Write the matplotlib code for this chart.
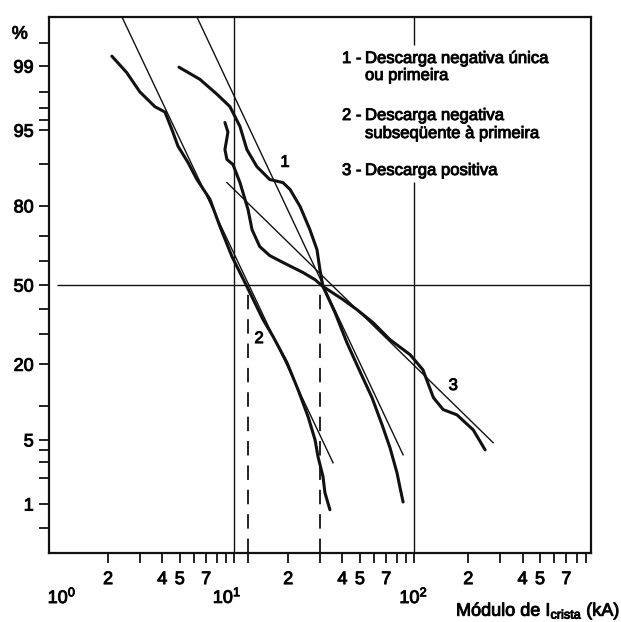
import numpy as np
import matplotlib
matplotlib.use("Agg")
import matplotlib.pyplot as plt
import matplotlib.ticker as mticker
import matplotlib.transforms as mtransforms
import matplotlib.patheffects as pe
from statistics import NormalDist

plt.rcParams['font.family'] = ['Liberation Sans', 'DejaVu Sans']
plt.rcParams['mathtext.fontset'] = 'custom'
plt.rcParams['mathtext.rm'] = 'Liberation Sans'
plt.rcParams['mathtext.it'] = 'Liberation Sans:italic'

# Curvas (kA, % de probabilidade)
curva1_ka = [4.95, 6.47, 8.05, 9.50, 10.8, 11.8, 13.4, 15.8, 18.7, 20.5, 23.3, 26.4,
             28.9, 30.0, 31.2, 36.4, 42.4, 50.1, 58.4, 66.4, 73.5, 80.4, 83.6, 86.9]
curva1_pct = [98.97, 98.56, 97.87, 97.1, 95.4, 92.5, 89.6, 86.9, 86.2, 84.5, 79.8, 72.2,
              64.7, 56.6, 49.4, 38.5, 27.0, 17.9, 11.6, 6.9, 4.2, 2.3, 1.56, 1.06]

curva2_ka = [2.10, 2.54, 3.00, 3.64, 4.14, 4.52, 4.89, 5.55, 6.23, 7.36, 8.36, 9.75,
             11.8, 14.5, 16.5, 19.7, 22.7, 25.8, 28.2, 29.3, 31.2, 32.0, 34.1]
curva2_pct = [99.25, 98.8, 98.0, 97.1, 96.7, 95.1, 93.0, 90.4, 86.9, 81.9, 73.3, 61.9,
              49.4, 35.7, 29.2, 20.5, 13.3, 8.1, 5.0, 3.4, 2.1, 1.37, 0.85]

curva3_ka = [8.91, 9.26, 8.91, 9.14, 9.87, 10.8, 11.97, 12.6, 13.9, 15.8, 18.7, 24.2,
             28.2, 31.2, 40.3, 48.2, 59.2, 73.5, 95.0, 112, 128, 145, 173, 213, 248]
curva3_pct = [95.8, 94.8, 92.5, 90.9, 90.0, 86.2, 78.9, 72.2, 65.9, 62.3, 59.5, 55.3,
              52.3, 49.4, 43.9, 39.7, 34.5, 28.1, 23.0, 18.4, 11.6, 9.3, 8.4, 6.2, 4.0]

# Retas ajustadas (dois pontos cada)
reta1_ka = [6.23, 86.9]
reta1_pct = [99.78, 3.57]
reta2_ka = [2.39, 35.5]
reta2_pct = [99.78, 2.95]
reta3_ka = [9.14, 275]
reta3_pct = [86.2, 4.7]

# Medianas (linhas tracejadas)
medianas_ka = [12, 30]

y_maior = [1, 5, 20, 50, 80, 95, 99]
y_menor = [0.5, 2, 3, 4, 10, 30, 40, 60, 70, 90, 96, 97, 98, 99.5]
x_maior = [2, 4, 5, 7, 20, 40, 50, 70, 200, 400, 500, 700]
x_rotulos = ['2', '4', '5', '7', '2', '4', '5', '7', '2', '4', '5', '7']
x_menor = [3, 6, 8, 9, 10, 12, 30, 60, 80, 90, 100, 300, 600, 800, 900]

legenda = [("1 -", ["Descarga negativa única", "ou primeira"]),
           ("2 -", ["Descarga negativa", "subseqüente à primeira"]),
           ("3 -", ["Descarga positiva"])]

# Escala de probabilidade normal
_nd = NormalDist()


def prob_fwd(p):
    p = np.clip(np.asarray(p, dtype=float), 1e-6, 100 - 1e-6)
    return np.vectorize(lambda v: _nd.inv_cdf(v / 100.0), otypes=[float])(p)


def prob_inv(z):
    z = np.asarray(z, dtype=float)
    return np.vectorize(lambda v: _nd.cdf(v) * 100.0, otypes=[float])(z)


preto = '#111111'
# texto "digitalizado" um pouco mais grosso
tinta = [pe.withStroke(linewidth=0.7, foreground=preto)]

fig = plt.figure(figsize=(6.21, 6.22), dpi=100)
ax = fig.add_axes([0.0789, 0.1109, 0.8728, 0.8617])
ax.set_xscale('log')
ax.set_yscale('function', functions=(prob_fwd, prob_inv))
ax.set_xlim(0.94, 960)
ax.set_ylim(0.221, 99.78)

ax.plot(curva1_ka, curva1_pct, color=preto, lw=2.2, solid_capstyle='round', solid_joinstyle='round')
ax.plot(curva2_ka, curva2_pct, color=preto, lw=2.2, solid_capstyle='round', solid_joinstyle='round')
ax.plot(curva3_ka, curva3_pct, color=preto, lw=2.2, solid_capstyle='round', solid_joinstyle='round')
ax.plot(reta1_ka, reta1_pct, color=preto, lw=1.0)
ax.plot(reta2_ka, reta2_pct, color=preto, lw=1.0)
ax.plot(reta3_ka, reta3_pct, color=preto, lw=1.0)

# linhas de referência
ax.axvline(10, color=preto, lw=1.0)
ax.vlines(100, 0.221, 86.4, color=preto, lw=1.0)
ax.vlines(100, 99.47, 99.78, color=preto, lw=1.0)
ax.hlines(50, 1.04, 960, color=preto, lw=1.0)
ax.vlines(medianas_ka, 0.221, 50, color=preto, lw=1.3, linestyles=(0, (8, 5.5)))

for xv, yv, num in [(19.2, 90.4, '1'), (13.8, 28.5, '2'), (165, 14.3, '3')]:
    ax.text(xv, yv, num, fontsize=12, ha='center', va='center', path_effects=tinta)

# eixos
ax.set_yticks(y_maior, [str(v) for v in y_maior])
ax.set_yticks(y_menor, minor=True)
ax.set_xticks(x_maior, x_rotulos)
ax.set_xticks(x_menor, minor=True)
ax.xaxis.set_minor_formatter(mticker.NullFormatter())
ax.yaxis.set_minor_formatter(mticker.NullFormatter())
ax.tick_params(which='both', direction='out', length=7, width=1.3, color=preto,
               labelsize=13)
ax.tick_params(axis='x', pad=6)
ax.tick_params(axis='y', pad=4)
for lbl in ax.get_xticklabels() + ax.get_yticklabels():
    lbl.set_path_effects(tinta)
for s in ax.spines.values():
    s.set_linewidth(1.6)
    s.set_color(preto)

trans = mtransforms.blended_transform_factory(ax.transData, ax.transAxes)
for xv, txt in [(1.11, r'$10^0$'), (9.16, r'$10^1$'), (99.5, r'$10^2$')]:
    ax.text(xv, -0.082, txt, transform=trans, ha='center', va='center', fontsize=13,
            path_effects=tinta)

ax.text(-0.054, 0.968, '%', transform=ax.transAxes, ha='center', va='center',
        fontsize=13, path_effects=tinta)
fig.text(0.998, 0.01, r'Módulo de I$_{\mathrm{crista}}$ (kA)', ha='right',
         va='baseline', fontsize=13, path_effects=tinta)

# legenda em texto
bases = [[63, 80], [120, 138], [175]]
for (num, linhas), ys in zip(legenda, bases):
    fig.text(342 / 621, 1 - ys[0] / 622, num, fontsize=12, va='baseline', path_effects=tinta)
    for linha, yb in zip(linhas, ys):
        fig.text(365 / 621, 1 - yb / 622, linha, fontsize=12, va='baseline',
                 path_effects=tinta)

fig.savefig('out.png', dpi=100, facecolor='white')
